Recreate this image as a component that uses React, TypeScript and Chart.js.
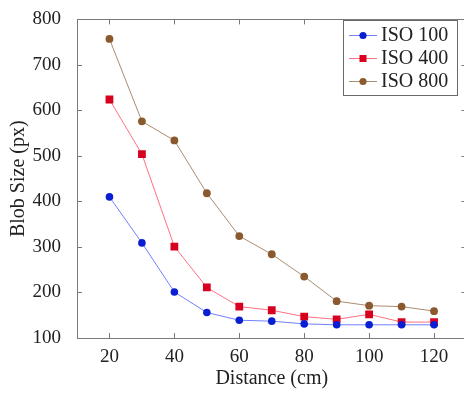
import React, { useEffect, useRef } from 'react';
import { Chart, registerables } from 'chart.js';

Chart.register(...registerables);

const distances = [20, 30, 40, 50, 60, 70, 80, 90, 100, 110, 120];
const iso100 = [410, 309, 201, 156, 139, 137, 131, 129, 129, 129, 129];
const iso400 = [624, 504, 301, 211, 169, 161, 147, 141, 152, 135, 135];
const iso800 = [757, 576, 534, 418, 324, 284, 235, 181, 171, 169, 159];
const seriesLabels = ['ISO 100', 'ISO 400', 'ISO 800'];
const xTickValues = [20, 40, 60, 80, 100, 120];
const yTickValues = [100, 200, 300, 400, 500, 600, 700, 800];

const FONT = "'Liberation Serif', 'Times New Roman', serif";
const FRAME = '#7a7a7a';

const framePlugin = {
  id: 'pgfFrame',
  afterDraw(chart: any) {
    const { ctx, chartArea } = chart;
    const { left, top, right, bottom } = chartArea;
    const xs = chart.scales.x;
    const ys = chart.scales.y;
    ctx.save();
    ctx.strokeStyle = FRAME;
    ctx.lineWidth = 1;
    ctx.beginPath();
    const tl = 5;
    xs.ticks.forEach((t: any) => {
      const px = Math.round(xs.getPixelForValue(t.value)) + 0.5;
      ctx.moveTo(px, bottom);
      ctx.lineTo(px, bottom - tl);
      ctx.moveTo(px, top);
      ctx.lineTo(px, top + tl);
    });
    ys.ticks.forEach((t: any) => {
      const py = Math.round(ys.getPixelForValue(t.value)) + 0.5;
      ctx.moveTo(left, py);
      ctx.lineTo(left + tl, py);
      ctx.moveTo(right, py);
      ctx.lineTo(right - tl, py);
    });
    ctx.stroke();
    ctx.strokeRect(Math.round(left) + 0.5, Math.round(top) + 0.5, Math.round(right - left), Math.round(bottom - top));
    ctx.restore();
  },
};

const legendPlugin = {
  id: 'pgfLegend',
  afterDraw(chart: any) {
    const { ctx } = chart;
    const x0 = 343.5, y0 = 20.5, w = 114, h = 75;
    ctx.save();
    ctx.fillStyle = '#ffffff';
    ctx.fillRect(x0, y0, w, h);
    ctx.strokeStyle = '#6a6a6a';
    ctx.lineWidth = 1;
    ctx.strokeRect(x0, y0, w, h);
    const rows = [35, 58, 81];
    chart.data.datasets.forEach((ds: any, i: number) => {
      const cy = rows[i];
      ctx.strokeStyle = ds.borderColor;
      ctx.lineWidth = 1;
      ctx.beginPath();
      ctx.moveTo(349, cy + 0.5);
      ctx.lineTo(377, cy + 0.5);
      ctx.stroke();
      ctx.fillStyle = ds.pointBackgroundColor;
      if (ds.pointStyle === 'rect') {
        ctx.fillRect(363 - 3.5, cy - 3, 7, 7);
      } else {
        ctx.beginPath();
        ctx.arc(363, cy + 0.5, 3.6, 0, Math.PI * 2);
        ctx.fill();
      }
      ctx.fillStyle = '#222';
      ctx.font = `20px ${FONT}`;
      ctx.textBaseline = 'middle';
      ctx.textAlign = 'left';
      ctx.fillText(ds.label, 381, cy + 1);
    });
    ctx.restore();
  },
};

export default function App() {
  const ref = useRef<HTMLCanvasElement>(null);
  useEffect(() => {
    document.body.style.margin = '0';
    const mk = (vals: number[]) => vals.map((v, i) => ({ x: distances[i], y: v }));
    const chart = new Chart(ref.current!, {
      type: 'line',
      data: {
        datasets: [
          {
            label: seriesLabels[0],
            data: mk(iso100),
            borderColor: '#7080ff',
            pointBackgroundColor: '#0a1ed2',
            pointBorderColor: '#0a1ed2',
            pointStyle: 'circle',
            pointRadius: 3.8,
            borderWidth: 1,
            pointBorderWidth: 0,
          },
          {
            label: seriesLabels[1],
            data: mk(iso400),
            borderColor: '#ff7080',
            pointBackgroundColor: '#d8001f',
            pointBorderColor: '#d8001f',
            pointStyle: 'rect',
            pointRadius: 5.5,
            borderWidth: 1,
            pointBorderWidth: 0,
          },
          {
            label: seriesLabels[2],
            data: mk(iso800),
            borderColor: '#aa8c70',
            pointBackgroundColor: '#8a5a2e',
            pointBorderColor: '#8a5a2e',
            pointStyle: 'circle',
            pointRadius: 3.9,
            borderWidth: 1,
            pointBorderWidth: 0,
          },
        ],
      },
      options: {
        animation: false,
        responsive: false,
        devicePixelRatio: 1,
        layout: { padding: { top: 11, right: 4, left: 0, bottom: 0 } },
        plugins: { legend: { display: false }, tooltip: { enabled: false } },
        scales: {
          x: {
            type: 'linear',
            min: 10,
            max: 130,
            grid: { display: false },
            border: { display: false },
            afterBuildTicks: (s: any) => {
              s.ticks = xTickValues.map((v) => ({ value: v }));
            },
            afterFit: (s: any) => {
              s.height = 55;
            },
            ticks: {
              color: '#222',
              font: { family: FONT, size: 19 },
              padding: 0,
              maxRotation: 0,
            },
            title: {
              display: true,
              text: 'Distance (cm)',
              color: '#222',
              font: { family: FONT, size: 20 },
              padding: { top: 0, bottom: 2 },
            },
          },
          y: {
            type: 'linear',
            min: 100,
            max: 800,
            grid: { display: false },
            border: { display: false },
            afterBuildTicks: (s: any) => {
              s.ticks = yTickValues.map((v) => ({ value: v }));
            },
            afterFit: (s: any) => {
              s.width = 77;
            },
            ticks: {
              color: '#222',
              font: { family: FONT, size: 19 },
              padding: 8,
            },
            title: {
              display: true,
              text: 'Blob Size (px)',
              color: '#222',
              font: { family: FONT, size: 20 },
              padding: { top: 7, bottom: 0 },
            },
          },
        },
      },
      plugins: [framePlugin, legendPlugin],
    });
    return () => chart.destroy();
  }, []);
  return (
    <div style={{ width: 464, height: 393, overflow: 'hidden', position: 'relative' }}>
      <canvas ref={ref} width={472} height={393} style={{ display: 'block', width: 472, height: 393 }} />
    </div>
  );
}
